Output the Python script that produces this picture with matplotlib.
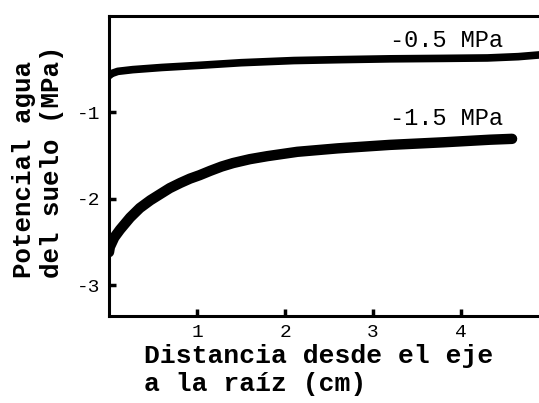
import numpy as np
import matplotlib
matplotlib.use("Agg")
import matplotlib.pyplot as plt

# Distance from the root axis (cm) and soil water potential (MPa)
dist_05 = [0.0, 0.03, 0.1, 0.27, 0.6, 1.03, 1.5, 2.10, 2.6, 3.20, 3.8, 4.30,
           4.65, 4.89]
psi_05 = [-0.58, -0.555, -0.53, -0.51, -0.485, -0.46, -0.43, -0.405, -0.395,
          -0.385, -0.38, -0.375, -0.36, -0.34]

dist_15 = [0.0, 0.01, 0.06, 0.125, 0.24, 0.35, 0.47, 0.58, 0.69, 0.81, 0.92,
           1.03, 1.15, 1.28, 1.41, 1.60, 1.80, 2.14, 2.6, 3.19, 3.8, 4.33, 4.58]
psi_15 = [-2.62, -2.56, -2.45, -2.36, -2.22, -2.11, -2.02, -1.95, -1.88, -1.82,
          -1.77, -1.73, -1.68, -1.63, -1.59, -1.545, -1.51, -1.46, -1.42,
          -1.38, -1.35, -1.32, -1.31]

x_ticks = [1, 2, 3, 4]
y_ticks = [-1, -2, -3]
curve_labels = ["-0.5 MPa", "-1.5 MPa"]

mono = "Liberation Mono"

fig = plt.figure(figsize=(5.39, 4.03), dpi=100)
ax = fig.add_axes([109 / 539, 87 / 403, 430 / 539, 300 / 403])

ax.plot(dist_05, psi_05, color="black", lw=5.5, solid_capstyle="round",
        solid_joinstyle="round")
ax.plot(dist_15, psi_15, color="black", lw=7.5, solid_capstyle="round",
        solid_joinstyle="round")

ax.text(3.83, -0.17, curve_labels[0], fontfamily=mono, fontsize=17,
        ha="center", va="center")
ax.text(3.83, -1.07, curve_labels[1], fontfamily=mono, fontsize=17,
        ha="center", va="center")

ax.set_xlim(0, 4.886)
ax.set_ylim(-3.358, 0.11)

for side in ["left", "top", "bottom"]:
    ax.spines[side].set_linewidth(2.2)
ax.spines["right"].set_visible(False)

ax.set_xticks(x_ticks)
ax.set_yticks(y_ticks)
ax.set_xticklabels([str(t) for t in x_ticks])
ax.set_yticklabels([str(t) for t in y_ticks])
ax.tick_params(direction="in", length=5, width=2.5, pad=6, labelsize=14)
for lab in ax.get_xticklabels() + ax.get_yticklabels():
    lab.set_fontfamily(mono)

ax.set_xlabel("Distancia desde el eje\na la raíz (cm)", fontfamily=mono,
              fontweight="bold", fontsize=19, ha="left", va="top",
              multialignment="left", linespacing=1.2)
ax.xaxis.set_label_coords(35 / 430, -28 / 300)

ax.set_ylabel("Potencial agua\ndel suelo (MPa)", fontfamily=mono,
              fontweight="bold", fontsize=18.5, ha="left", va="bottom",
              multialignment="left", linespacing=1.2)
ax.yaxis.set_label_coords(-45 / 430, 38 / 300)

fig.savefig("out.png", dpi=100)
